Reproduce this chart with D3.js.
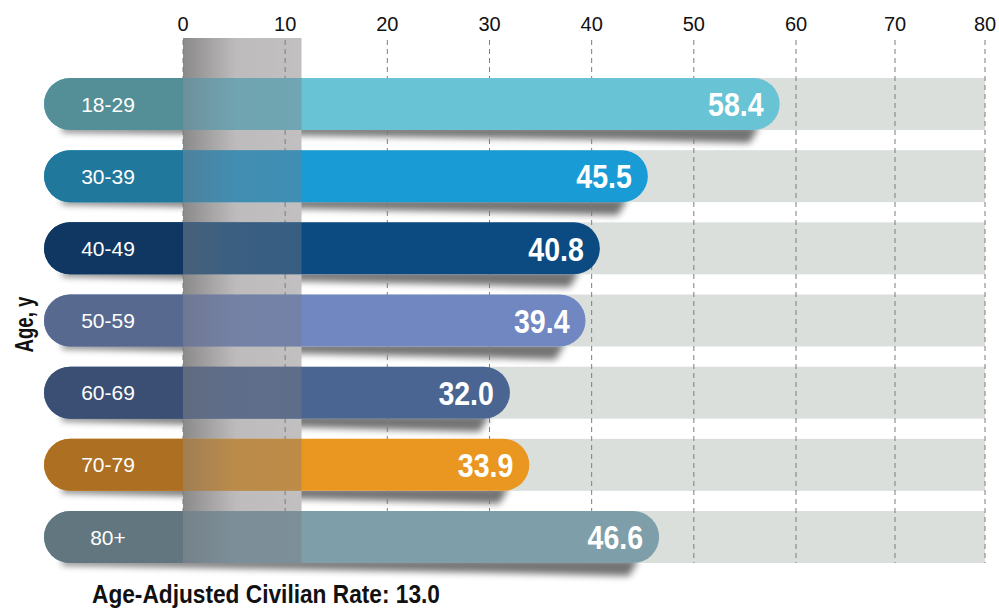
<!DOCTYPE html>
<html>
<head>
<meta charset="utf-8">
<script src="https://cdn.jsdelivr.net/npm/d3@7"></script>
<style>
  body { margin: 0; background: #fff; }
  svg { display: block; }
  .tick-label { font-family: "Liberation Sans", Arial, sans-serif; font-size: 20px; fill: #111; }
  .cat-label { font-family: "Liberation Sans", Arial, sans-serif; font-size: 21px; fill: #fff; }
  .val-label { font-family: "Liberation Sans", Arial, sans-serif; font-weight: bold; font-size: 34px; fill: #fff; }
  .axis-title { font-family: "Liberation Sans", Arial, sans-serif; font-weight: bold; font-size: 25px; fill: #111; }
</style>
</head>
<body>
<svg width="999" height="608"></svg>
<script>
const ageGroups = ['18-29', '30-39', '40-49', '50-59', '60-69', '70-79', '80+'];
const rates = [58.4, 45.5, 40.8, 39.4, 32.0, 33.9, 46.6];
const barColors = ['#68c3d4', '#199cd6', '#0b4b82', '#7087c1', '#4a6592', '#ea9722', '#7e9ea9'];
const labelColors = ['#548f98', '#21789d', '#0f3762', '#57698f', '#3a4f73', '#ad6f22', '#62767f'];
const xTickValues = [0, 10, 20, 30, 40, 50, 60, 70, 80];
const shadeValue = 11.6;
const civilianRate = 13.0;
const yLabel = 'Age, y';

const data = ageGroups.map((g, i) => ({ group: g, rate: rates[i], color: barColors[i], dark: labelColors[i] }));

const svg = d3.select('svg');
const pillLeft = 44;
const gridTop = 40;
const narrow = 0.84; // fake a condensed face

// axis is hand-tuned in the original, 70/80 sit closer together
const xScale = d3.scaleLinear()
  .domain([0, 60, 70, 80])
  .range([183, 796, 895, 985]);

const yScale = d3.scaleBand()
  .domain(ageGroups)
  .range([78, 563])
  .paddingInner(0.28)
  .paddingOuter(0);

const bw = yScale.bandwidth();
const r = bw / 2;

const defs = svg.append('defs');
const blur = defs.append('filter').attr('id', 'blur')
  .attr('x', '-10%').attr('y', '-50%').attr('width', '120%').attr('height', '200%');
blur.append('feGaussianBlur').attr('stdDeviation', 3.5);

const shadeGrad = defs.append('linearGradient').attr('id', 'shadeGrad');
shadeGrad.append('stop').attr('offset', '0%').attr('stop-color', '#000').attr('stop-opacity', 0.28);
shadeGrad.append('stop').attr('offset', '45%').attr('stop-color', '#000').attr('stop-opacity', 0.02);
shadeGrad.append('stop').attr('offset', '100%').attr('stop-color', '#000').attr('stop-opacity', 0);

const overGrad = defs.append('linearGradient').attr('id', 'overGrad');
overGrad.append('stop').attr('offset', '0%').attr('stop-color', '#6e6e74').attr('stop-opacity', 0.6);
overGrad.append('stop').attr('offset', '45%').attr('stop-color', '#7a7a80').attr('stop-opacity', 0.42);
overGrad.append('stop').attr('offset', '100%').attr('stop-color', '#7a7a80').attr('stop-opacity', 0.4);

// shadows under the pills
svg.append('g').selectAll('path').data(data)
  .enter().append('path')
    .attr('d', d => {
      const xe = xScale(d.rate);
      const yb = yScale(d.group) + bw;
      return `M${pillLeft + 18},${yb - 4} L${xe - 20},${yb - 4} L${xe - 30},${yb + 13} L${xe - 150},${yb + 10} L${pillLeft + 18},${yb + 2} Z`;
    })
    .attr('fill', '#000')
    .attr('opacity', 0.55)
    .attr('filter', 'url(#blur)');

// light tracks
svg.append('g').selectAll('rect').data(data)
  .enter().append('rect')
    .attr('x', xScale(0))
    .attr('y', d => yScale(d.group))
    .attr('width', xScale(80) - xScale(0))
    .attr('height', bw)
    .attr('fill', '#dadfdc');

// civilian rate band
const shadeW = xScale(shadeValue) - xScale(0);
svg.append('rect')
  .attr('x', xScale(0)).attr('y', gridTop - 2)
  .attr('width', shadeW).attr('height', yScale.range()[1] - gridTop + 2)
  .attr('fill', '#c1bfc0');
svg.append('rect')
  .attr('x', xScale(0)).attr('y', gridTop - 2)
  .attr('width', shadeW).attr('height', yScale.range()[1] - gridTop + 2)
  .attr('fill', 'url(#shadeGrad)');

// grid + tick labels
const grid = svg.append('g');
grid.selectAll('line').data(xTickValues)
  .enter().append('line')
    .attr('x1', d => xScale(d)).attr('x2', d => xScale(d))
    .attr('y1', gridTop).attr('y2', yScale.range()[1])
    .attr('stroke', '#7d7d7d')
    .attr('stroke-width', 1)
    .attr('stroke-dasharray', '5,4');
grid.selectAll('text').data(xTickValues)
  .enter().append('text')
    .attr('class', 'tick-label')
    .attr('x', d => xScale(d))
    .attr('y', 31)
    .attr('text-anchor', 'middle')
    .text(d => d);

// pills
const bars = svg.append('g').selectAll('g').data(data)
  .enter().append('g');

bars.append('rect')
  .attr('x', pillLeft)
  .attr('y', d => yScale(d.group))
  .attr('width', d => xScale(d.rate) - pillLeft)
  .attr('height', bw)
  .attr('rx', r).attr('ry', r)
  .attr('fill', d => d.color);

bars.append('path')
  .attr('d', d => {
    const y0 = yScale(d.group);
    const x1 = xScale(0);
    return `M${pillLeft + r},${y0} H${x1} V${y0 + bw} H${pillLeft + r} A${r},${r} 0 0 1 ${pillLeft + r},${y0} Z`;
  })
  .attr('fill', d => d.dark);

bars.append('rect')
  .attr('x', xScale(0))
  .attr('y', d => yScale(d.group))
  .attr('width', shadeW)
  .attr('height', bw)
  .attr('fill', 'url(#overGrad)');

bars.append('text')
  .attr('class', 'cat-label')
  .attr('x', 108)
  .attr('y', d => yScale(d.group) + bw / 2)
  .attr('dy', '0.36em')
  .attr('text-anchor', 'middle')
  .text(d => d.group);

bars.append('text')
  .attr('class', 'val-label')
  .attr('transform', d => `translate(${xScale(d.rate) - 16},${yScale(d.group) + bw / 2}) scale(${narrow},1)`)
  .attr('dy', '0.36em')
  .attr('text-anchor', 'end')
  .text(d => d3.format('.1f')(d.rate));

// axis titles
svg.append('text')
  .attr('class', 'axis-title')
  .attr('transform', `translate(33,${(yScale.range()[0] + yScale.range()[1]) / 2 + 4}) rotate(-90)`)
  .attr('x', -28)
  .attr('textLength', 56)
  .attr('lengthAdjust', 'spacingAndGlyphs')
  .text(yLabel);

svg.append('text')
  .attr('class', 'axis-title')
  .attr('x', 92)
  .attr('y', 603)
  .attr('textLength', 348)
  .attr('lengthAdjust', 'spacingAndGlyphs')
  .text(`Age-Adjusted Civilian Rate: ${d3.format('.1f')(civilianRate)}`);
</script>
</body>
</html>
